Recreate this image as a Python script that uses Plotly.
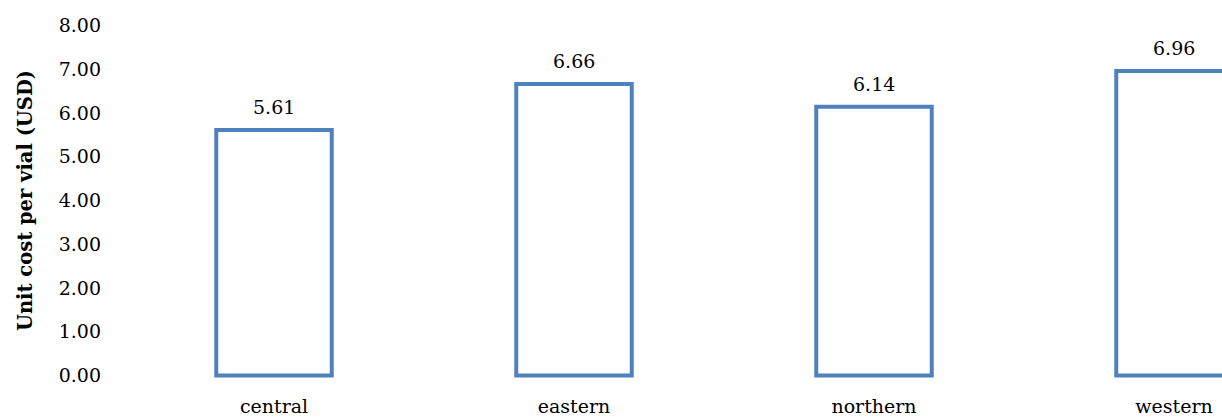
import plotly.graph_objects as go

categories = ["central", "eastern", "northern", "western"]
values = [5.61, 6.66, 6.14, 6.96]
value_labels = ["5.61", "6.66", "6.14", "6.96"]

FONT = "DejaVu Serif"
BLUE = "#4F81BD"
FS = 19

fig = go.Figure()
fig.add_trace(go.Bar(
    x=categories, y=values, width=0.385,
    marker=dict(color="white", line=dict(color=BLUE, width=4)),
    hoverinfo="skip",
))

for c, v, t in zip(categories, values, value_labels):
    fig.add_annotation(x=c, y=v, text=t, showarrow=False, yanchor="middle",
                       yshift=23, font=dict(family=FONT, size=FS, color="black"))

fig.update_layout(
    width=1222, height=417,
    margin=dict(l=124, r=0, t=21, b=37),
    plot_bgcolor="white", paper_bgcolor="white",
    showlegend=False,
    font=dict(family=FONT, size=FS, color="black"),
)
fig.update_xaxes(range=[-0.5, 3.16], showline=False, showgrid=False, zeroline=False,
                 ticks="", ticklabelstandoff=13,
                 tickfont=dict(family=FONT, size=FS, color="black"))
fig.update_yaxes(range=[-0.1, 8.1], dtick=1, tick0=0, tickformat=".2f",
                 showline=False, showgrid=False, zeroline=False, ticks="",
                 ticklabelstandoff=22,
                 tickfont=dict(family=FONT, size=FS, color="black"),
                 title=dict(text="<b>Unit cost per vial (USD)</b>", standoff=20,
                            font=dict(family=FONT, size=19.5, color="black")))

fig.write_html("out.html")
